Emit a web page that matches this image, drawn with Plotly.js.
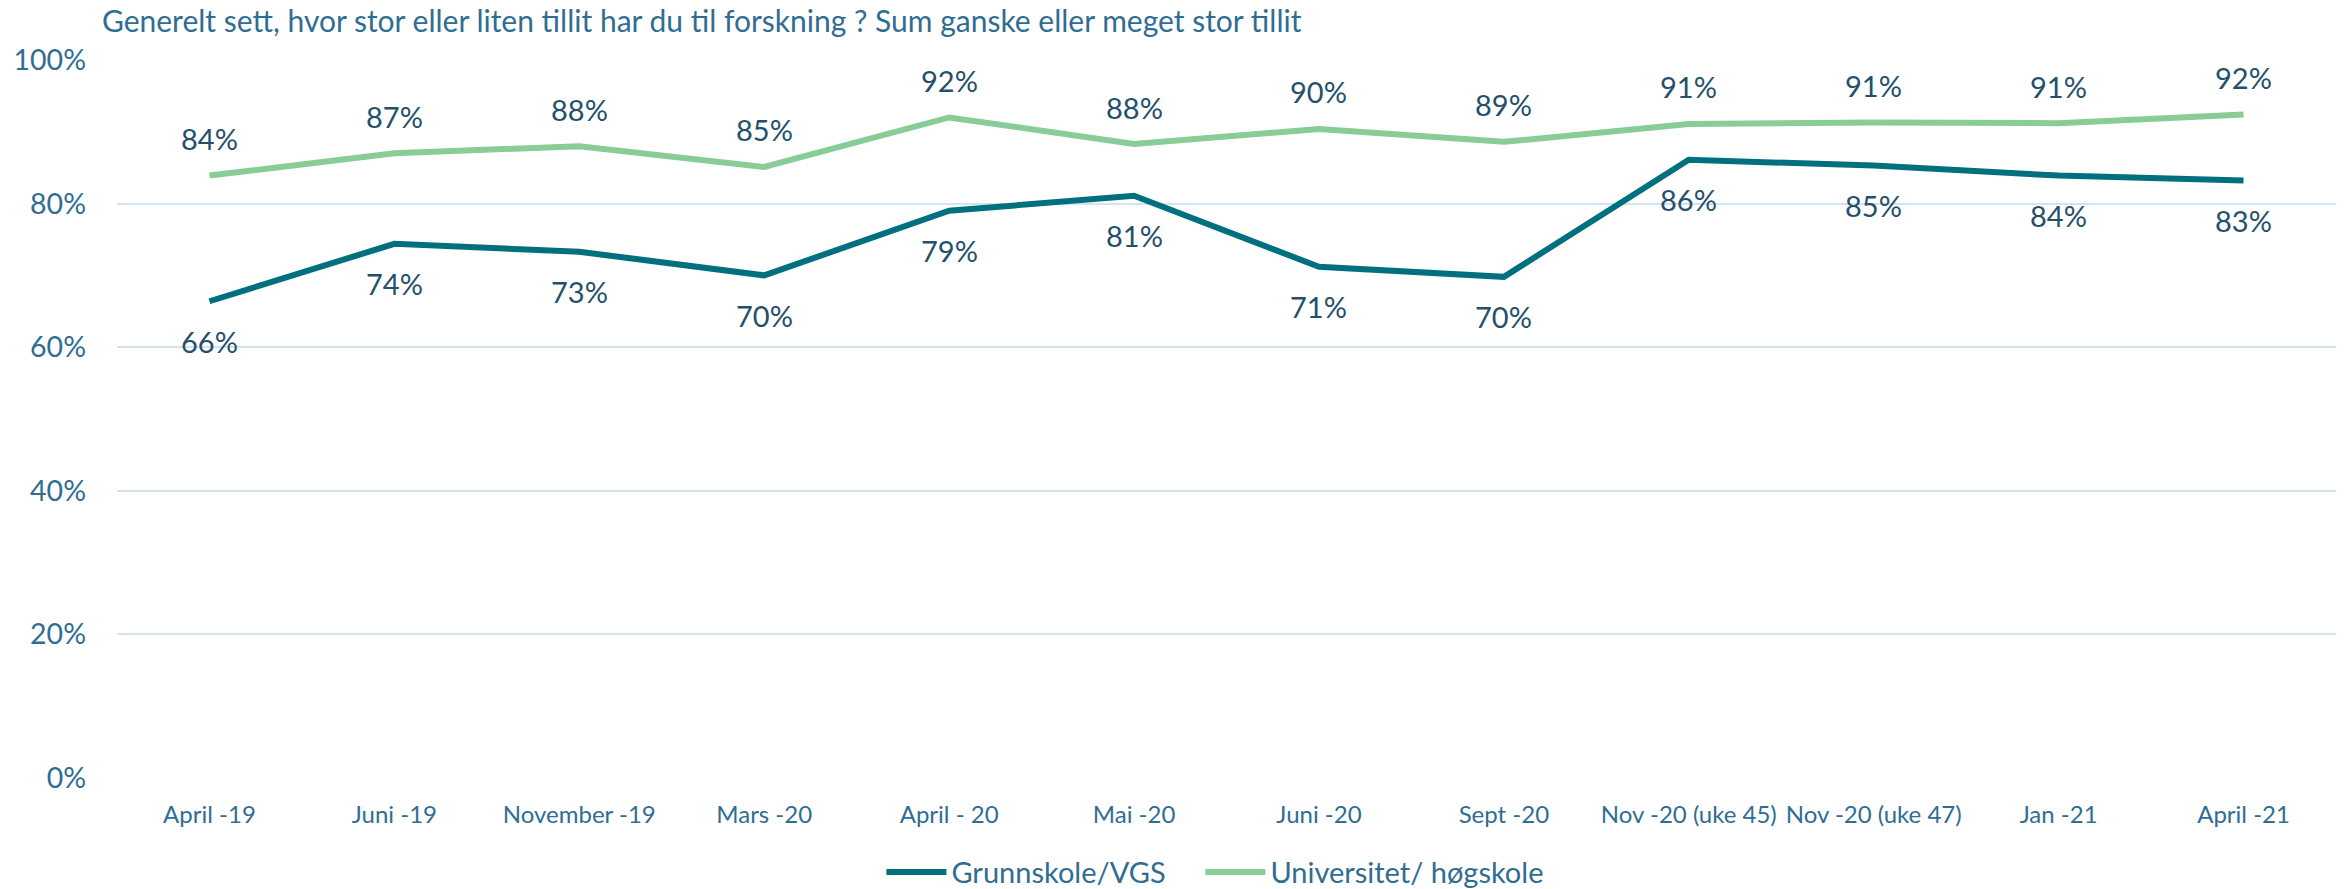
<!DOCTYPE html>
<html>
<head>
<meta charset="utf-8">
<script src="https://cdn.plot.ly/plotly-3.0.1.min.js"></script>
<style>
html,body{margin:0;padding:0;background:#fff;}
#chart{width:2344px;height:889px;}
</style>
</head>
<body>
<div id="chart"></div>
<script>
const categories = ["April -19","Juni -19","November -19","Mars -20","April - 20","Mai -20","Juni -20","Sept -20","Nov -20 (uke 45)","Nov -20 (uke 47)","Jan -21","April -21"];
const grunnskoleValues = [66.4, 74.4, 73.3, 70.0, 79.0, 81.1, 71.2, 69.8, 86.1, 85.3, 83.9, 83.2];
const grunnskoleLabels = ["66%","74%","73%","70%","79%","81%","71%","70%","86%","85%","84%","83%"];
const universitetValues = [83.9, 87.0, 88.0, 85.1, 92.0, 88.3, 90.4, 88.6, 91.1, 91.3, 91.2, 92.4];
const universitetLabels = ["84%","87%","88%","85%","92%","88%","90%","89%","91%","91%","91%","92%"];
const yTickVals = [0, 20, 40, 60, 80, 100];
const yTickText = ["0%","20%","40%","60%","80%","100%"];
const titleText = "Generelt sett, hvor stor eller liten tillit har du til forskning ? Sum ganske eller meget stor tillit";

const FONT = "Lato, 'Open Sans', sans-serif";
const darkColor = "#00707F";
const greenColor = "#88CC98";
const labelColor = "#24506B";
const tickColor = "#2F6D93";
const NBSP4 = "\u00A0\u00A0\u00A0\u00A0";

const traces = [
  {
    x: categories, y: grunnskoleValues, type: "scatter", mode: "lines",
    name: "Grunnskole/VGS" + NBSP4,
    line: {color: darkColor, width: 6},
    hoverinfo: "skip"
  },
  {
    x: categories, y: universitetValues, type: "scatter", mode: "lines",
    name: "Universitet/ høgskole",
    line: {color: greenColor, width: 6},
    hoverinfo: "skip"
  }
];

const annotations = [];
categories.forEach((c, i) => {
  annotations.push({x: c, y: grunnskoleValues[i], xref: "x", yref: "y", text: grunnskoleLabels[i],
    showarrow: false, yshift: -40, font: {family: FONT, size: 29, color: labelColor}});
  annotations.push({x: c, y: universitetValues[i], xref: "x", yref: "y", text: universitetLabels[i],
    showarrow: false, yshift: 37, font: {family: FONT, size: 29, color: labelColor}});
});

const layout = {
  width: 2344, height: 889,
  paper_bgcolor: "#ffffff", plot_bgcolor: "#ffffff",
  margin: {l: 117, r: 8, t: 60, b: 111, autoexpand: false},
  font: {family: FONT, color: tickColor},
  title: {
    text: titleText,
    font: {family: FONT, size: 30, color: tickColor},
    x: 0.0435, xanchor: "left", xref: "container",
    y: 1 - 21/889, yanchor: "middle", yref: "container"
  },
  xaxis: {
    type: "category",
    range: [-0.5, categories.length - 0.5],
    showgrid: false, zeroline: false, showline: false,
    ticks: "", ticklabelstandoff: 20,
    tickfont: {family: FONT, size: 24, color: tickColor}
  },
  yaxis: {
    range: [0, 100],
    tickvals: yTickVals, ticktext: yTickText,
    showgrid: true, gridcolor: "#D3E3F1", gridwidth: 2,
    zeroline: false, showline: false, ticks: "",
    ticklabelstandoff: 30,
    tickfont: {family: FONT, size: 28.5, color: tickColor}
  },
  showlegend: true,
  legend: {
    orientation: "h", x: 0.495, xanchor: "center", y: -0.131, yanchor: "middle",
    font: {family: FONT, size: 29, color: tickColor},
    itemwidth: 60, tracegroupgap: 0
  },
  annotations: annotations
};

Plotly.newPlot("chart", traces, layout, {staticPlot: true, displayModeBar: false});
</script>
</body>
</html>
